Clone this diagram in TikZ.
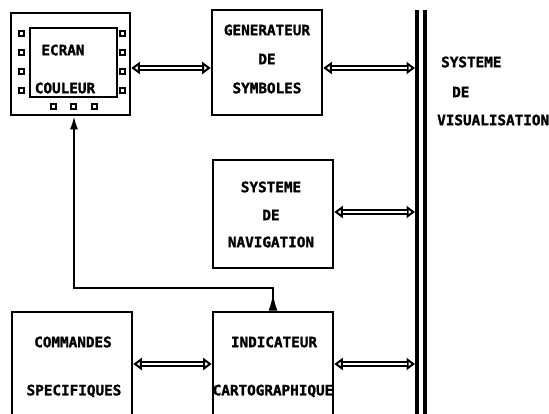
\documentclass[tikz,border=0pt]{standalone}
\usepackage{fontspec}
\newfontfamily\lblfont{DejaVu Sans Mono Bold}[FakeBold=1.6]
\usetikzlibrary{arrows.meta}
\tikzset{
  box/.style={draw, line width=2.6pt, inner sep=0pt},
  lbl/.style={font=\lblfont\fontsize{14.3}{14.3}\selectfont, inner sep=0pt},
  knob/.style={draw, fill=white, line width=2pt, minimum size=5pt, inner sep=0pt},
  heads/.style={line width=2pt, {Triangle[open,length=8.5pt,width=12pt]}-{Triangle[open,length=8.5pt,width=12pt]}},
  shaft/.style={double=white, double distance=2.4pt, line width=1.6pt, shorten <=8.5pt, shorten >=8.5pt},
  fb/.style={line width=2pt, {Latex[reversed,length=17pt,width=9pt]}-{Latex[length=13pt,width=8pt]}},
  bus/.style={line width=3.4pt}
}
\newcommand\dblcon[2]{\draw[heads] (#1) -- (#2); \draw[shaft] (#1) -- (#2);}
\begin{document}
\begin{tikzpicture}[x=1pt,y=-1pt]
\useasboundingbox (0,0) rectangle (549,413);
% screen
\node[box, minimum width=119pt, minimum height=102pt] (scr) at (70.5,64) {};
\node[box, line width=2.2pt, minimum width=87pt, minimum height=69pt] (scri) at (73.5,62.5) {};
\foreach \y in {33,52,71,90} {
  \node[knob] at (21,\y) {};
  \node[knob] at (122,\y) {};
}
\foreach \x in {53,73,94} { \node[knob] at (\x,106) {}; }
\node[lbl] (t1) at (63,50) {ECRAN};
\node[lbl] (t2) at (65,88) {COULEUR};
% boxes
\node[box, minimum width=110pt, minimum height=105pt] (gen) at (267,62.5) {};
\node[lbl] at (267,30) {GENERATEUR};
\node[lbl] at (267,59) {DE};
\node[lbl] at (267,88) {SYMBOLES};
\node[box, minimum width=120pt, minimum height=108pt] (nav) at (273,214) {};
\node[lbl] at (271,187) {SYSTEME};
\node[lbl] at (271,215) {DE};
\node[lbl] at (271,242) {NAVIGATION};
\node[box, minimum width=120pt, minimum height=118pt] (com) at (72,371) {};
\node[lbl] at (73,342) {COMMANDES};
\node[lbl] at (74,391) {SPECIFIQUES};
\node[box, minimum width=120pt, minimum height=118pt] (ind) at (273,371) {};
\node[lbl] at (274,342) {INDICATEUR};
\node[lbl] at (273,391) {CARTOGRAPHIQUE};
% bus
\coordinate (busA) at (417,10);
\coordinate (busB) at (425,10);
\draw[bus] (busA) -- (417,420);
\draw[bus] (busB) -- (425,420);
\coordinate (bus) at (415,0);
\node[lbl, anchor=west] at (441,62) {SYSTEME};
\node[lbl, anchor=west] at (452,92) {DE};
\node[lbl, anchor=west] at (437,120) {VISUALISATION};
% connectors
\coordinate (y1) at (0,68);
\coordinate (y2) at (0,212);
\coordinate (y3) at (0,364);
\dblcon{scr.east |- y1}{gen.west |- y1}
\dblcon{gen.east |- y1}{bus |- y1}
\dblcon{nav.east |- y2}{bus |- y2}
\dblcon{com.east |- y3}{ind.west |- y3}
\dblcon{ind.east |- y3}{bus |- y3}
\coordinate (fbk) at (74,288);
\draw[fb] (ind.north) |- (fbk) -- (fbk |- scr.south);
\end{tikzpicture}
\end{document}
